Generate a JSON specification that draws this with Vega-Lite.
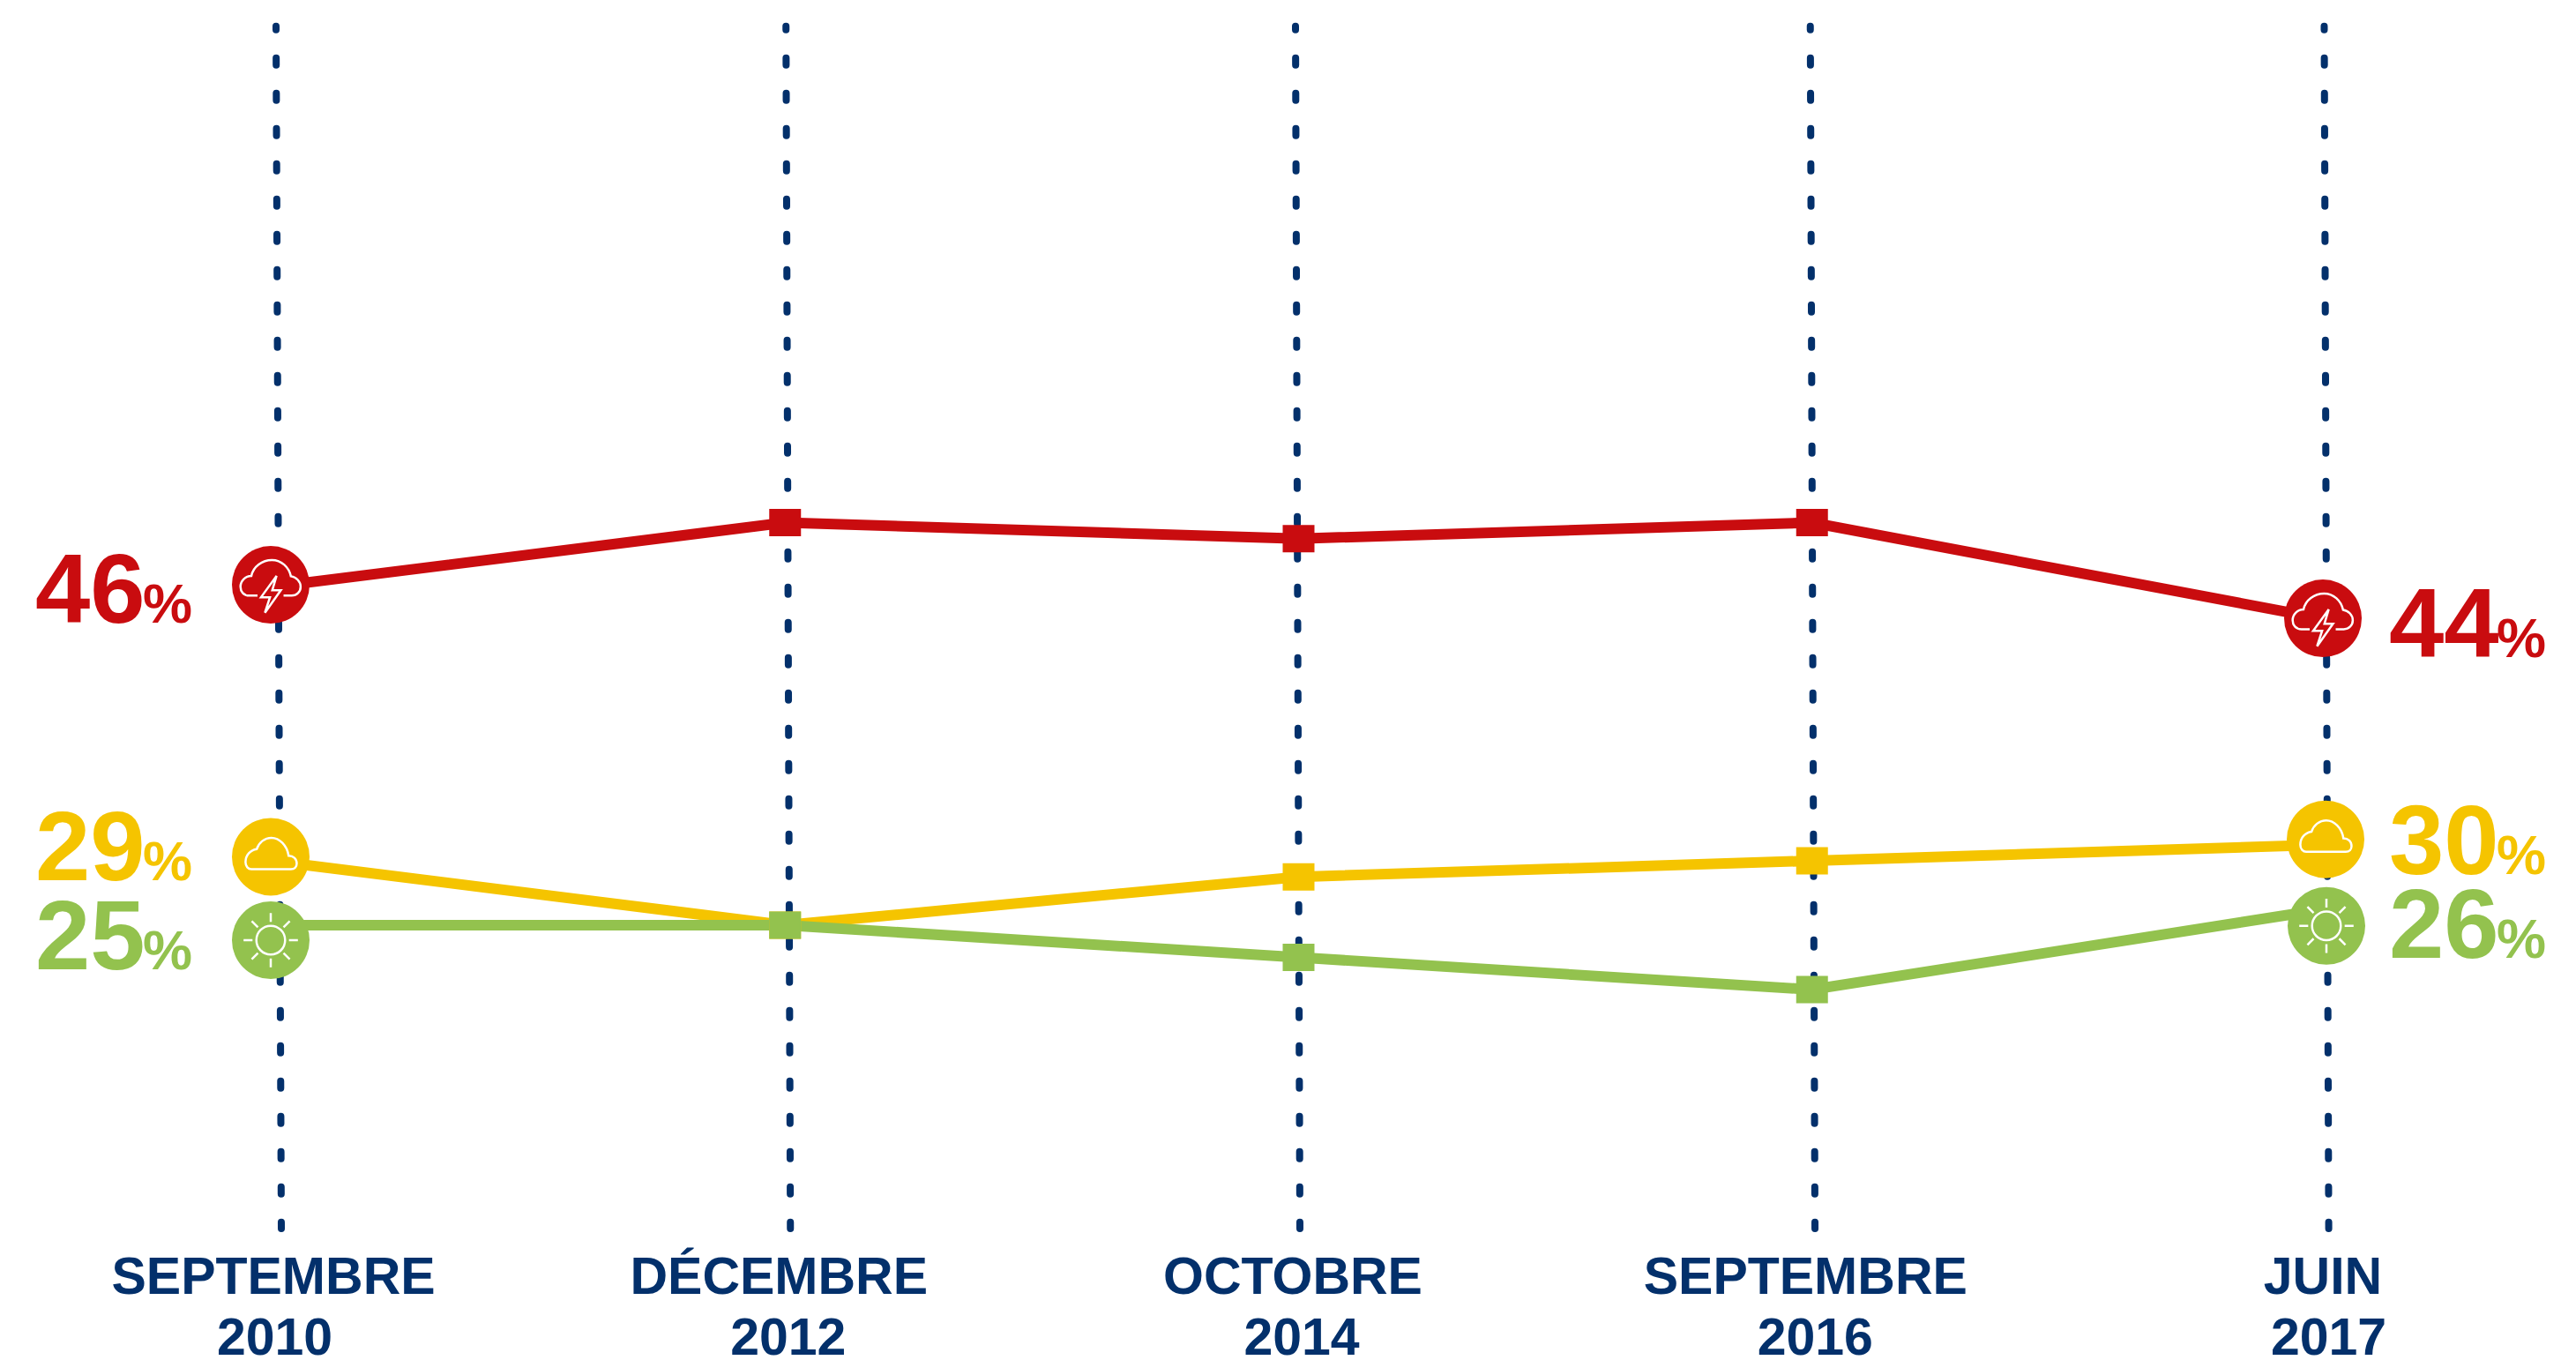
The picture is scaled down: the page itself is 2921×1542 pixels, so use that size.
{"$schema":"https://vega.github.io/schema/vega-lite/v6.json","width":2921,"height":1393,"padding":{"left":0,"top":0,"right":0,"bottom":149},"autosize":"none","background":"white","config":{"view":{"stroke":null}},"datasets":{"rows":[{"period":"SEPTEMBRE|2010","month":"SEPTEMBRE","series":"orage","value":46},{"period":"DÉCEMBRE|2012","month":"DÉCEMBRE","series":"orage","value":50},{"period":"OCTOBRE|2014","month":"OCTOBRE","series":"orage","value":49},{"period":"SEPTEMBRE|2016","month":"SEPTEMBRE","series":"orage","value":50},{"period":"JUIN|2017","month":"JUIN","series":"orage","value":44},{"period":"SEPTEMBRE|2010","month":"SEPTEMBRE","series":"nuage","value":29},{"period":"DÉCEMBRE|2012","month":"DÉCEMBRE","series":"nuage","value":25},{"period":"OCTOBRE|2014","month":"OCTOBRE","series":"nuage","value":28},{"period":"SEPTEMBRE|2016","month":"SEPTEMBRE","series":"nuage","value":29},{"period":"JUIN|2017","month":"JUIN","series":"nuage","value":30},{"period":"SEPTEMBRE|2010","month":"SEPTEMBRE","series":"soleil","value":25},{"period":"DÉCEMBRE|2012","month":"DÉCEMBRE","series":"soleil","value":25},{"period":"OCTOBRE|2014","month":"OCTOBRE","series":"soleil","value":23},{"period":"SEPTEMBRE|2016","month":"SEPTEMBRE","series":"soleil","value":21},{"period":"JUIN|2017","month":"JUIN","series":"soleil","value":26}]},"data":{"name":"rows"},"encoding":{"x":{"field":"period","type":"ordinal","scale":{"type":"point","padding":0,"domain":["SEPTEMBRE|2010","DÉCEMBRE|2012","OCTOBRE|2014","SEPTEMBRE|2016","JUIN|2017"],"range":[308,2637]},"axis":{"title":null,"domain":false,"ticks":false,"grid":false,"labelAngle":0,"labelExpr":"split(datum.label,'|')[1]","labelFont":"Liberation Sans","labelFontWeight":"bold","labelFontSize":59,"labelColor":"#03306b","labelPadding":95,"labelAlign":"center","labelBaseline":"top","labelOverlap":false,"labelLimit":2000,"labelOffset":3,"labelBound":false,"labelFlush":false}},"y":{"field":"value","type":"quantitative","scale":{"domain":[6.16,82.45],"nice":false,"zero":false},"axis":null},"color":{"field":"series","type":"nominal","scale":{"domain":["orage","nuage","soleil"],"range":["#c90c0f","#f5c400","#93c24e"]},"legend":null}},"layer":[{"transform":[{"filter":"datum.series=='orage'&&datum.period=='SEPTEMBRE|2010'"}],"layer":[{"mark":{"type":"rule","strokeWidth":8,"strokeDash":[8,32],"strokeDashOffset":4,"strokeCap":"round","xOffset":5,"x2Offset":11},"encoding":{"x2":{"field":"period"},"color":{"value":"#03306b"},"y":{"datum":80.82},"y2":{"datum":6.16}}},{"mark":{"type":"text","font":"Liberation Sans","fontWeight":"bold","fontSize":59,"align":"center","baseline":"alphabetic","xOffset":2,"yOffset":74},"encoding":{"text":{"field":"month"},"color":{"value":"#03306b"},"y":{"datum":6.16}}}]},{"transform":[{"filter":"datum.series=='orage'&&datum.period=='DÉCEMBRE|2012'"}],"layer":[{"mark":{"type":"rule","strokeWidth":8,"strokeDash":[8,32],"strokeDashOffset":4,"strokeCap":"round","xOffset":1,"x2Offset":6},"encoding":{"x2":{"field":"period"},"color":{"value":"#03306b"},"y":{"datum":80.82},"y2":{"datum":6.16}}},{"mark":{"type":"text","font":"Liberation Sans","fontWeight":"bold","fontSize":59,"align":"center","baseline":"alphabetic","xOffset":-7,"yOffset":74},"encoding":{"text":{"field":"month"},"color":{"value":"#03306b"},"y":{"datum":6.16}}}]},{"transform":[{"filter":"datum.series=='orage'&&datum.period=='OCTOBRE|2014'"}],"layer":[{"mark":{"type":"rule","strokeWidth":8,"strokeDash":[8,32],"strokeDashOffset":4,"strokeCap":"round","xOffset":-3.5,"x2Offset":1.5},"encoding":{"x2":{"field":"period"},"color":{"value":"#03306b"},"y":{"datum":80.82},"y2":{"datum":6.16}}},{"mark":{"type":"text","font":"Liberation Sans","fontWeight":"bold","fontSize":59,"align":"center","baseline":"alphabetic","xOffset":-6.5,"yOffset":74},"encoding":{"text":{"field":"month"},"color":{"value":"#03306b"},"y":{"datum":6.16}}}]},{"transform":[{"filter":"datum.series=='orage'&&datum.period=='SEPTEMBRE|2016'"}],"layer":[{"mark":{"type":"rule","strokeWidth":8,"strokeDash":[8,32],"strokeDashOffset":4,"strokeCap":"round","xOffset":-2,"x2Offset":3.3},"encoding":{"x2":{"field":"period"},"color":{"value":"#03306b"},"y":{"datum":80.82},"y2":{"datum":6.16}}},{"mark":{"type":"text","font":"Liberation Sans","fontWeight":"bold","fontSize":59,"align":"center","baseline":"alphabetic","xOffset":-7.5,"yOffset":74},"encoding":{"text":{"field":"month"},"color":{"value":"#03306b"},"y":{"datum":6.16}}}]},{"transform":[{"filter":"datum.series=='orage'&&datum.period=='JUIN|2017'"}],"layer":[{"mark":{"type":"rule","strokeWidth":8,"strokeDash":[8,32],"strokeDashOffset":4,"strokeCap":"round","xOffset":-1.5,"x2Offset":3.6},"encoding":{"x2":{"field":"period"},"color":{"value":"#03306b"},"y":{"datum":80.82},"y2":{"datum":6.16}}},{"mark":{"type":"text","font":"Liberation Sans","fontWeight":"bold","fontSize":59,"align":"center","baseline":"alphabetic","xOffset":-3,"yOffset":74},"encoding":{"text":{"field":"month"},"color":{"value":"#03306b"},"y":{"datum":6.16}}}]},{"mark":{"type":"line","strokeWidth":12},"encoding":{"detail":{"field":"series"}}},{"transform":[{"filter":"indexof(['DÉCEMBRE|2012','OCTOBRE|2014','SEPTEMBRE|2016'],datum.period)>=0"}],"mark":{"type":"point","shape":"M-1 -0.86 H1 V0.86 H-1 Z","filled":true,"opacity":1,"size":1296}},{"transform":[{"filter":"datum.series=='orage'&&datum.period=='SEPTEMBRE|2010'"}],"layer":[{"mark":{"type":"point","shape":"circle","filled":true,"opacity":1,"size":7744,"xOffset":-1,"yOffset":-2.5}},{"mark":{"type":"point","filled":false,"opacity":1,"strokeWidth":2.5,"size":7744,"xOffset":-1,"yOffset":-2.5,"shape":"M-0.34 0.28 H-0.55 C-0.7 0.28 -0.78 0.17 -0.78 0.05 C-0.78 -0.1 -0.65 -0.23 -0.5 -0.23 C-0.45 -0.47 -0.22 -0.64 0.03 -0.64 C0.28 -0.64 0.47 -0.45 0.52 -0.22 C0.66 -0.2 0.77 -0.08 0.77 0.05 C0.77 0.18 0.67 0.28 0.54 0.28 H0.33 M0.15 -0.23 L-0.25 0.32 L-0.02 0.32 L-0.15 0.72 L0.26 0.14 L0.04 0.14 Z"},"encoding":{"color":{"value":"white"}}},{"mark":{"type":"text","font":"Liberation Sans","fontWeight":"bold","fontSize":112,"align":"left","baseline":"alphabetic","xOffset":-268,"yOffset":40.5},"encoding":{"text":{"field":"value"}}},{"mark":{"type":"text","font":"Liberation Sans","fontWeight":"bold","fontSize":63,"align":"left","baseline":"alphabetic","xOffset":-146,"yOffset":40.5,"text":"%"}}]},{"transform":[{"filter":"datum.series=='orage'&&datum.period=='JUIN|2017'"}],"layer":[{"mark":{"type":"point","shape":"circle","filled":true,"opacity":1,"size":7744,"xOffset":-3,"yOffset":-1}},{"mark":{"type":"point","filled":false,"opacity":1,"strokeWidth":2.5,"size":7744,"xOffset":-3,"yOffset":-1,"shape":"M-0.34 0.28 H-0.55 C-0.7 0.28 -0.78 0.17 -0.78 0.05 C-0.78 -0.1 -0.65 -0.23 -0.5 -0.23 C-0.45 -0.47 -0.22 -0.64 0.03 -0.64 C0.28 -0.64 0.47 -0.45 0.52 -0.22 C0.66 -0.2 0.77 -0.08 0.77 0.05 C0.77 0.18 0.67 0.28 0.54 0.28 H0.33 M0.15 -0.23 L-0.25 0.32 L-0.02 0.32 L-0.15 0.72 L0.26 0.14 L0.04 0.14 Z"},"encoding":{"color":{"value":"white"}}},{"mark":{"type":"text","font":"Liberation Sans","fontWeight":"bold","fontSize":112,"align":"left","baseline":"alphabetic","xOffset":72,"yOffset":43},"encoding":{"text":{"field":"value"}}},{"mark":{"type":"text","font":"Liberation Sans","fontWeight":"bold","fontSize":63,"align":"left","baseline":"alphabetic","xOffset":194,"yOffset":43,"text":"%"}}]},{"transform":[{"filter":"datum.series=='nuage'&&datum.period=='SEPTEMBRE|2010'"}],"layer":[{"mark":{"type":"point","shape":"circle","filled":true,"opacity":1,"size":7744,"xOffset":-1,"yOffset":-4.5}},{"mark":{"type":"point","filled":false,"opacity":1,"strokeWidth":2.5,"size":7744,"xOffset":-1,"yOffset":-4.5,"shape":"M-0.5 0.32 H0.52 C0.62 0.32 0.67 0.25 0.67 0.17 C0.67 0.05 0.58 -0.03 0.46 -0.03 C0.42 -0.3 0.22 -0.49 0.02 -0.49 C-0.16 -0.49 -0.31 -0.36 -0.36 -0.2 C-0.52 -0.18 -0.65 -0.05 -0.65 0.14 C-0.65 0.25 -0.58 0.32 -0.5 0.32 Z"},"encoding":{"color":{"value":"white"}}},{"mark":{"type":"text","font":"Liberation Sans","fontWeight":"bold","fontSize":112,"align":"left","baseline":"alphabetic","xOffset":-268,"yOffset":22},"encoding":{"text":{"field":"value"}}},{"mark":{"type":"text","font":"Liberation Sans","fontWeight":"bold","fontSize":63,"align":"left","baseline":"alphabetic","xOffset":-146,"yOffset":22,"text":"%"}}]},{"transform":[{"filter":"datum.series=='nuage'&&datum.period=='JUIN|2017'"}],"layer":[{"mark":{"type":"point","shape":"circle","filled":true,"opacity":1,"size":7744,"xOffset":0,"yOffset":-6}},{"mark":{"type":"point","filled":false,"opacity":1,"strokeWidth":2.5,"size":7744,"xOffset":0,"yOffset":-6,"shape":"M-0.5 0.32 H0.52 C0.62 0.32 0.67 0.25 0.67 0.17 C0.67 0.05 0.58 -0.03 0.46 -0.03 C0.42 -0.3 0.22 -0.49 0.02 -0.49 C-0.16 -0.49 -0.31 -0.36 -0.36 -0.2 C-0.52 -0.18 -0.65 -0.05 -0.65 0.14 C-0.65 0.25 -0.58 0.32 -0.5 0.32 Z"},"encoding":{"color":{"value":"white"}}},{"mark":{"type":"text","font":"Liberation Sans","fontWeight":"bold","fontSize":112,"align":"left","baseline":"alphabetic","xOffset":72,"yOffset":33},"encoding":{"text":{"field":"value"}}},{"mark":{"type":"text","font":"Liberation Sans","fontWeight":"bold","fontSize":63,"align":"left","baseline":"alphabetic","xOffset":194,"yOffset":33,"text":"%"}}]},{"transform":[{"filter":"datum.series=='soleil'&&datum.period=='SEPTEMBRE|2010'"}],"layer":[{"mark":{"type":"point","shape":"circle","filled":true,"opacity":1,"size":7744,"xOffset":-1,"yOffset":17}},{"mark":{"type":"point","filled":false,"opacity":1,"strokeWidth":2.5,"size":7744,"xOffset":-1,"yOffset":17,"shape":"M0.37 0 A0.37 0.37 0 1 1 -0.37 0 A0.37 0.37 0 1 1 0.37 0 Z M0 -0.7 V-0.47 M0 0.7 V0.47 M-0.7 0 H-0.47 M0.7 0 H0.47 M-0.49 -0.49 L-0.33 -0.33 M0.49 -0.49 L0.33 -0.33 M-0.49 0.49 L-0.33 0.33 M0.49 0.49 L0.33 0.33"},"encoding":{"color":{"value":"white"}}},{"mark":{"type":"text","font":"Liberation Sans","fontWeight":"bold","fontSize":112,"align":"left","baseline":"alphabetic","xOffset":-268,"yOffset":50},"encoding":{"text":{"field":"value"}}},{"mark":{"type":"text","font":"Liberation Sans","fontWeight":"bold","fontSize":63,"align":"left","baseline":"alphabetic","xOffset":-146,"yOffset":50,"text":"%"}}]},{"transform":[{"filter":"datum.series=='soleil'&&datum.period=='JUIN|2017'"}],"layer":[{"mark":{"type":"point","shape":"circle","filled":true,"opacity":1,"size":7744,"xOffset":1,"yOffset":19}},{"mark":{"type":"point","filled":false,"opacity":1,"strokeWidth":2.5,"size":7744,"xOffset":1,"yOffset":19,"shape":"M0.37 0 A0.37 0.37 0 1 1 -0.37 0 A0.37 0.37 0 1 1 0.37 0 Z M0 -0.7 V-0.47 M0 0.7 V0.47 M-0.7 0 H-0.47 M0.7 0 H0.47 M-0.49 -0.49 L-0.33 -0.33 M0.49 -0.49 L0.33 -0.33 M-0.49 0.49 L-0.33 0.33 M0.49 0.49 L0.33 0.33"},"encoding":{"color":{"value":"white"}}},{"mark":{"type":"text","font":"Liberation Sans","fontWeight":"bold","fontSize":112,"align":"left","baseline":"alphabetic","xOffset":72,"yOffset":55},"encoding":{"text":{"field":"value"}}},{"mark":{"type":"text","font":"Liberation Sans","fontWeight":"bold","fontSize":63,"align":"left","baseline":"alphabetic","xOffset":194,"yOffset":55,"text":"%"}}]}]}
